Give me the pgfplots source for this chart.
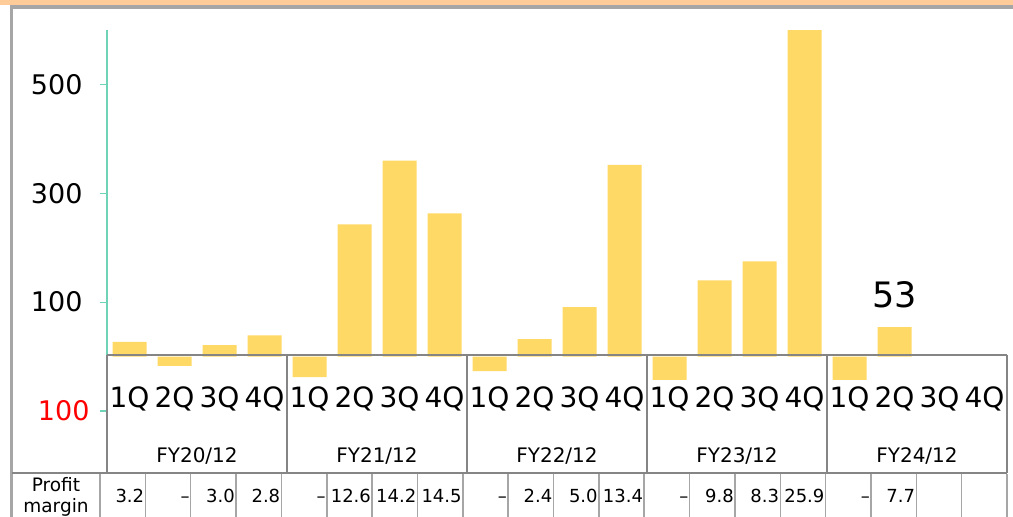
\documentclass[border=0pt]{standalone}
\usepackage{fontspec}
\setmainfont{DejaVu Sans}
\usepackage{pgfplots}
\pgfplotsset{compat=1.18}
\definecolor{barfill}{HTML}{FFD966}
\definecolor{axisgreen}{HTML}{6FD3B8}
\definecolor{boxgray}{HTML}{858585}
\definecolor{linegray}{HTML}{A6A6A6}
\definecolor{topband}{HTML}{FFCC99}

\begin{document}
\begin{tikzpicture}[x=1pt,y=1pt]
\path[use as bounding box] (0,0) rectangle (1013,517);
% frame pieces of the slide
\fill[topband] (0,512) rectangle (1013,517);
\fill[linegray] (10,508) rectangle (1013,512);
\fill[linegray] (10,0) rectangle (13,512);

\begin{axis}[
  at={(107pt,44pt)}, anchor=south west,
  scale only axis, width=900pt, height=443pt,
  xmin=-0.5, xmax=19.5, ymin=-214, ymax=600,
  axis y line*=left, axis x line*=bottom,
  x axis line style={draw=none},
  y axis line style={draw=axisgreen, line width=1.2pt},
  /pgf/number format/assume math mode=true,
  ytick={100,300,500},
  extra y ticks={-100}, extra y tick labels={100},
  extra y tick style={yticklabel style={text=red, xshift=7pt}},
  yticklabel style={font=\fontsize{27}{27}\selectfont, xshift=-14pt},
  ytick style={draw=axisgreen, line width=1.2pt},
  major tick length=7pt, tick align=outside,
  xtick={0,...,19},
  xticklabels={1Q,2Q,3Q,4Q,1Q,2Q,3Q,4Q,1Q,2Q,3Q,4Q,1Q,2Q,3Q,4Q,1Q,2Q,3Q,4Q},
  xtick style={draw=none},
  xticklabel style={font=\fontsize{28}{28}\selectfont, anchor=base, yshift=72pt},
  ybar, bar width=34pt,
]
\addplot[fill=barfill, draw=none] coordinates {
  (0,27) (1,-17) (2,21) (3,39)
  (4,-38) (5,243) (6,360) (7,263)
  (8,-27) (9,32) (10,91) (11,352)
  (12,-43) (13,140) (14,175) (15,600)
  (16,-43) (17,54)
};
\node[font=\fontsize{35}{35}\selectfont, anchor=base] at (axis cs:17,91) {53};
\end{axis}

% quarter / fiscal-year boxes
\draw[boxgray, line width=1.5pt] (107,162) -- (1007,162);
\draw[boxgray, line width=1.5pt] (12,44) -- (1007,44);
\foreach \x in {107,287,467,647,827,1007}
  \draw[boxgray, line width=1.5pt] (\x,162) -- (\x,44);
\foreach \lbl [count=\i from 0] in {FY20/12,FY21/12,FY22/12,FY23/12,FY24/12}
  \node[font=\fontsize{20}{20}\selectfont, anchor=base] at (197+180*\i,54) {\lbl};

% profit margin row
\foreach \k in {0,...,20}
  \draw[linegray, line width=1.5pt] (100+45.35*\k,43) -- (100+45.35*\k,0);
\node[font=\fontsize{18.5}{18.5}\selectfont, anchor=base] at (56,25) {Profit};
\node[font=\fontsize{18.5}{18.5}\selectfont, anchor=base] at (56,4) {margin};
\foreach \v [count=\i from 1] in {3.2,--,3.0,2.8,--,12.6,14.2,14.5,--,2.4,5.0,13.4,--,9.8,8.3,25.9,--,7.7}
  \node[font=\fontsize{18}{18}\selectfont, anchor=base east, inner sep=0pt] at (99+45.35*\i,14) {\v};
\end{tikzpicture}
\end{document}
